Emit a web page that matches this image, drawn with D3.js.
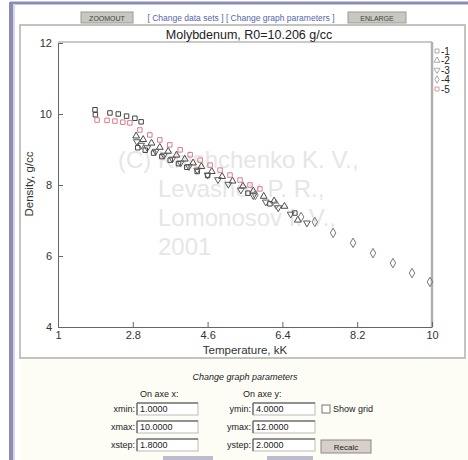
<!DOCTYPE html>
<html>
<head>
<meta charset="utf-8">
<script src="https://cdn.jsdelivr.net/npm/d3@7"></script>
<style>
  body { margin: 0; background: #fff; }
  svg text { font-family: Arial, "Liberation Sans", sans-serif; }
</style>
</head>
<body>
<div id="chart"></div>
<script>
const W = 468, H = 460

// Dados (T em kK, densidade em g/cc)
const series1 = [[1.89,10.12],[1.9,9.98],[2.25,10.03],[2.45,10.0],[2.65,9.94],[2.85,9.88],[3.0,9.78],
  [2.92,9.05],[3.1,8.98],[3.3,8.9],[3.5,8.8],[3.7,8.7],[3.9,8.6],[4.1,8.5],[4.35,8.38],[4.6,8.27],
  [5.57,7.77],[6.1,7.47],[6.7,7.21]]
const series2 = [[2.88,9.38],[3.05,9.28],[3.25,9.18],[3.45,9.06],[3.65,8.95],[3.85,8.84],[4.05,8.73],
  [4.25,8.62],[4.45,8.52],[4.7,8.38],[4.95,8.24],[5.2,8.11],[5.45,7.97],[5.7,7.83],[5.95,7.68],
  [6.2,7.55],[6.45,7.40],[6.77,7.01]]
const series3 = [[2.9,9.22],[3.0,9.12],[3.15,9.05],[3.35,8.95],[3.55,8.84],[3.75,8.73],[3.95,8.62],
  [4.15,8.52],[4.35,8.42],[4.6,8.28],[4.85,8.15],[5.1,8.02],[5.4,7.86],[5.7,7.70],[6.0,7.52],
  [6.3,7.36],[6.6,7.18],[6.99,6.93]]
const series4 = [[5.75,7.72],[6.25,7.45],[6.85,7.10],[7.18,6.96],[7.62,6.65],[8.1,6.37],[8.58,6.08],
  [9.06,5.80],[9.52,5.52],[9.95,5.27]]
const series5 = [[1.94,9.83],[2.18,9.82],[2.37,9.80],[2.56,9.77],[2.73,9.75],[2.97,9.55],[3.21,9.41],
  [3.45,9.27],[3.69,9.13],[3.94,8.99],[4.18,8.85],[4.42,8.70],[4.66,8.56],[4.90,8.42],[5.14,8.28],
  [5.38,8.14],[5.62,8.0],[5.86,7.89]]

const seriesNames = ["-1", "-2", "-3", "-4", "-5"]
const xTicks = [1, 2.8, 4.6, 6.4, 8.2, 10]
const yTicks = [4, 6, 8, 10, 12]
const watermark = ["(C) Khishchenko K. V.,", "Levashov P. R.,", "Lomonosov I. V.,", "2001"]

const svg = d3.select("#chart").append("svg")
  .attr("width", W).attr("height", H)

// Moldura da pagina
svg.append("rect").attr("x", 0).attr("y", 0).attr("width", W).attr("height", H).attr("fill", "#fff")
svg.append("rect").attr("x", 20).attr("y", 360).attr("width", 448).attr("height", 100).attr("fill", "#fdfdf6")
svg.append("line").attr("x1", 10).attr("x2", W).attr("y1", 3).attr("y2", 3)
  .attr("stroke", "#8c8cb8").attr("stroke-width", 3)
svg.append("line").attr("x1", 11).attr("x2", 11).attr("y1", 2).attr("y2", H)
  .attr("stroke", "#8c8cb8").attr("stroke-width", 4)
svg.append("line").attr("x1", 14).attr("x2", 14).attr("y1", 4).attr("y2", H)
  .attr("stroke", "#d8d8ea").attr("stroke-width", 2)
svg.append("rect").attr("x", 20).attr("y", 25).attr("width", 445).attr("height", 333)
  .attr("fill", "none").attr("stroke", "#c4c4bc").attr("stroke-width", 2)

// Botoes de cima
const topBtn = (x, w, label) => {
  svg.append("rect").attr("x", x).attr("y", 12).attr("width", w).attr("height", 11)
    .attr("fill", "#c8c8c0").attr("stroke", "#999")
  svg.append("text").attr("x", x + w / 2).attr("y", 20.5).attr("text-anchor", "middle")
    .attr("font-size", 7).attr("fill", "#444").text(label)
}
topBtn(81, 52, "ZOOMOUT")
topBtn(348, 58, "ENLARGE")
svg.append("text").attr("x", 241).attr("y", 21).attr("text-anchor", "middle")
  .attr("font-size", 8.5).attr("fill", "#5566aa").text("[ Change data sets ] [ Change graph parameters ]")

// Escalas
const x = d3.scaleLinear().domain([1, 10]).range([58, 432])
const y = d3.scaleLinear().domain([4, 12]).range([327, 43])

// Marca d'agua
const wmX = [118, 158, 158, 158]
svg.append("g").selectAll("text").data(watermark).enter().append("text")
  .attr("x", (d, i) => wmX[i]).attr("y", (d, i) => 168 + i * 29)
  .attr("font-size", 24).attr("fill", "#e6e6e6").text(d => d)

// Bordas do grafico
svg.append("line").attr("x1", 58).attr("x2", 432).attr("y1", 42).attr("y2", 42)
  .attr("stroke", "#b8b8b8").attr("stroke-width", 1.5)
svg.append("line").attr("x1", 432).attr("x2", 432).attr("y1", 42).attr("y2", 327)
  .attr("stroke", "#b0b0b0").attr("stroke-width", 2.5)

// Eixos
const minorX = d3.range(1, 10.001, 0.36)
const minorY = d3.range(4, 12.001, 0.4)

const gx = svg.append("g").attr("transform", "translate(0,327)")
gx.call(d3.axisBottom(x).tickValues(minorX).tickSize(-3).tickFormat(""))
gx.call(d3.axisBottom(x).tickValues(xTicks).tickSizeInner(-5).tickSizeOuter(0)
  .tickPadding(4).tickFormat(d3.format("")))
gx.selectAll("path, line").attr("stroke", "#666")
gx.selectAll("text").attr("font-size", 11).attr("fill", "#333").attr("font-family", "Arial, sans-serif")

const gy = svg.append("g").attr("transform", "translate(58,0)")
gy.call(d3.axisLeft(y).tickValues(minorY).tickSize(-3).tickFormat(""))
gy.call(d3.axisLeft(y).tickValues(yTicks).tickSizeInner(-5).tickSizeOuter(0)
  .tickPadding(6).tickFormat(d3.format("")))
gy.selectAll("path, line").attr("stroke", "#666")
gy.selectAll("text").attr("font-size", 11).attr("fill", "#333").attr("font-family", "Arial, sans-serif")

// Titulos
svg.append("text").attr("x", 249).attr("y", 39).attr("text-anchor", "middle")
  .attr("font-size", 12.5).attr("fill", "#222").text("Molybdenum, R0=10.206 g/cc")
svg.append("text").attr("x", 245).attr("y", 354).attr("text-anchor", "middle")
  .attr("font-size", 11.5).attr("fill", "#333").text("Temperature, kK")
svg.append("text").attr("transform", "translate(33,184) rotate(-90)").attr("text-anchor", "middle")
  .attr("font-size", 11.5).attr("fill", "#333").text("Density, g/cc")

// Series
const allSeries = [series1, series2, series3, series4, series5]
const shapes = [
  { type: d3.symbolSquare, size: 20, rot: 0 },
  { type: d3.symbolTriangle, size: 20, rot: 0 },
  { type: d3.symbolTriangle, size: 20, rot: 180 },
  { type: d3.symbolDiamond, size: 26, rot: 0 },
  { type: d3.symbolSquare, size: 20, rot: 0 }
]
const colors = ["#444", "#4a4a4a", "#5a5a5a", "#777", "#d87c8a"]

allSeries.forEach((s, i) => {
  svg.append("g").selectAll("path").data(s).enter().append("path")
    .attr("d", d3.symbol().type(shapes[i].type).size(shapes[i].size))
    .attr("transform", d => "translate(" + x(d[0]) + "," + y(d[1]) + ") rotate(" + shapes[i].rot + ")")
    .attr("fill", "none").attr("stroke", colors[i]).attr("stroke-width", 1)
})

// Legenda
const leg = svg.append("g").selectAll("g").data(seriesNames).enter().append("g")
  .attr("transform", (d, i) => "translate(437," + (51 + i * 9.5) + ")")
leg.append("path")
  .attr("d", (d, i) => d3.symbol().type(shapes[i].type).size(16)())
  .attr("transform", (d, i) => "rotate(" + shapes[i].rot + ")")
  .attr("fill", "none").attr("stroke", (d, i) => i == 4 ? "#e09aa4" : "#aaa")
leg.append("text").attr("x", 4).attr("y", 3.5).attr("font-size", 10).attr("fill", "#222").text(d => d)

// Formulario de baixo
const serif = "'Liberation Serif', 'DejaVu Serif', serif"
const formText = (xx, yy, t, opts = {}) => svg.append("text").attr("x", xx).attr("y", yy)
  .attr("font-family", serif).attr("font-size", opts.size || 9)
  .attr("font-style", opts.italic ? "italic" : "normal")
  .attr("text-anchor", opts.anchor || "start").attr("fill", "#222").text(t)

formText(245, 380, "Change graph parameters", { italic: true, anchor: "middle" })
formText(140, 397, "On axe x:")
formText(243, 397, "On axe y:")

const inputBox = (xx, yy, w, val) => {
  svg.append("rect").attr("x", xx).attr("y", yy).attr("width", w).attr("height", 12)
    .attr("fill", "#fff").attr("stroke", "#bbb")
  svg.append("line").attr("x1", xx).attr("x2", xx + w).attr("y1", yy).attr("y2", yy)
    .attr("stroke", "#777").attr("stroke-width", 1.5)
  svg.append("line").attr("x1", xx).attr("x2", xx).attr("y1", yy).attr("y2", yy + 12)
    .attr("stroke", "#777").attr("stroke-width", 1.5)
  formText(xx + 3, yy + 9, val)
}
const xLabels = ["xmin:", "xmax:", "xstep:"]
const xVals = ["1.0000", "10.0000", "1.8000"]
const yLabels = ["ymin:", "ymax:", "ystep:"]
const yVals = ["4.0000", "12.0000", "2.0000"]
xLabels.forEach((l, i) => {
  formText(135, 412 + i * 18, l, { anchor: "end" })
  inputBox(137, 403 + i * 18, 61, xVals[i])
  formText(251, 412 + i * 18, yLabels[i], { anchor: "end" })
  inputBox(253, 403 + i * 18, 62, yVals[i])
})
svg.append("rect").attr("x", 322).attr("y", 405).attr("width", 8).attr("height", 8)
  .attr("fill", "#fff").attr("stroke", "#777")
formText(333, 412, "Show grid")
svg.append("rect").attr("x", 321).attr("y", 440).attr("width", 50).attr("height", 13)
  .attr("fill", "#d8d0c8").attr("stroke", "#888")
formText(346, 450, "Recalc", { anchor: "middle", size: 8 })
svg.append("rect").attr("x", 163).attr("y", 456).attr("width", 50).attr("height", 6).attr("fill", "#bcbccc")
svg.append("rect").attr("x", 267).attr("y", 456).attr("width", 46).attr("height", 6).attr("fill", "#bcbccc")
</script>
</body>
</html>
